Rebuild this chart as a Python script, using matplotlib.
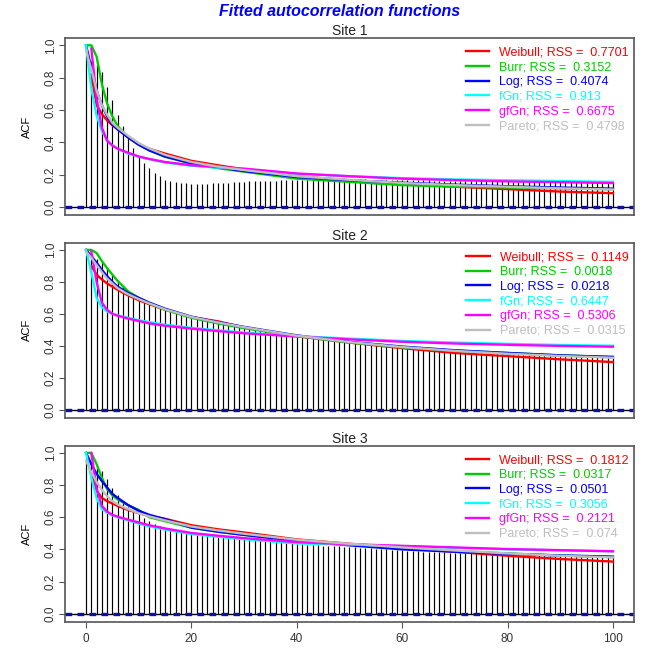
import numpy as np
import matplotlib
matplotlib.use("Agg")
import matplotlib.pyplot as plt

plt.rcParams["font.family"] = ["Liberation Sans", "DejaVu Sans"]

# sample ACF at lags 0..100, one list per site
lags = np.arange(101)

site1_acf = [0.94, 0.90, 0.88, 0.835, 0.745, 0.66, 0.57, 0.50, 0.425, 0.365, 0.315,
             0.272, 0.24, 0.213, 0.19, 0.168, 0.16, 0.155, 0.15, 0.146, 0.145,
             0.143, 0.142, 0.144, 0.146, 0.147, 0.149, 0.151, 0.153, 0.155, 0.157,
             0.158, 0.16, 0.161, 0.162, 0.163, 0.163, 0.164, 0.165, 0.165, 0.166,
             0.166, 0.167, 0.167, 0.168, 0.168, 0.168, 0.169, 0.169, 0.169, 0.17,
             0.17, 0.17, 0.17, 0.169, 0.169, 0.168, 0.168, 0.167, 0.167, 0.166,
             0.166, 0.165, 0.165, 0.164, 0.164, 0.163, 0.163, 0.162, 0.162, 0.161,
             0.161, 0.16, 0.16, 0.16, 0.159, 0.159, 0.159, 0.158, 0.158, 0.158,
             0.157, 0.157, 0.157, 0.156, 0.156, 0.156, 0.156, 0.155, 0.155, 0.155,
             0.155, 0.155, 0.154, 0.154, 0.154, 0.154, 0.154, 0.153, 0.153, 0.153]

site2_acf = [0.97, 0.96, 0.945, 0.925, 0.89, 0.85, 0.81, 0.775, 0.745, 0.72, 0.70,
             0.68, 0.665, 0.65, 0.64, 0.63, 0.62, 0.61, 0.60, 0.59, 0.58,
             0.572, 0.564, 0.557, 0.55, 0.543, 0.537, 0.531, 0.525, 0.519, 0.514,
             0.509, 0.504, 0.499, 0.494, 0.489, 0.484, 0.479, 0.474, 0.47, 0.466,
             0.461, 0.457, 0.453, 0.449, 0.445, 0.441, 0.437, 0.433, 0.429, 0.425,
             0.421, 0.418, 0.414, 0.411, 0.407, 0.404, 0.401, 0.397, 0.394, 0.39,
             0.387, 0.385, 0.383, 0.381, 0.379, 0.377, 0.375, 0.373, 0.371, 0.368,
             0.366, 0.364, 0.362, 0.36, 0.359, 0.357, 0.355, 0.354, 0.352, 0.35,
             0.349, 0.348, 0.347, 0.346, 0.345, 0.343, 0.342, 0.341, 0.34, 0.338,
             0.337, 0.336, 0.335, 0.334, 0.333, 0.332, 0.331, 0.33, 0.329, 0.328]

site3_acf = [0.97, 0.93, 0.91, 0.89, 0.835, 0.78, 0.74, 0.70, 0.665, 0.64, 0.62,
             0.595, 0.575, 0.555, 0.545, 0.535, 0.527, 0.52, 0.513, 0.507, 0.50,
             0.496, 0.492, 0.488, 0.484, 0.48, 0.477, 0.474, 0.471, 0.468, 0.465,
             0.462, 0.459, 0.456, 0.453, 0.45, 0.447, 0.444, 0.441, 0.438, 0.435,
             0.432, 0.43, 0.428, 0.426, 0.424, 0.422, 0.42, 0.418, 0.416, 0.414,
             0.412, 0.41, 0.408, 0.406, 0.404, 0.402, 0.4, 0.398, 0.396, 0.394,
             0.392, 0.39, 0.388, 0.386, 0.384, 0.383, 0.382, 0.381, 0.38, 0.379,
             0.378, 0.377, 0.376, 0.375, 0.374, 0.373, 0.372, 0.371, 0.37, 0.369,
             0.368, 0.367, 0.366, 0.365, 0.364, 0.363, 0.362, 0.361, 0.36, 0.359,
             0.358, 0.357, 0.357, 0.356, 0.356, 0.355, 0.355, 0.354, 0.354, 0.353]

# fitted model ACFs, evaluated on a coarser lag grid
fit_lags = [0, 1, 2, 3, 4, 5, 6, 8, 10, 12, 15, 20, 25, 30, 40, 50, 60, 70, 80, 90, 100]
nan = np.nan

site1_fit = {
    "Weibull": [nan, 0.82, 0.63, 0.575, 0.535, 0.505, 0.48, 0.43, 0.385, 0.36, 0.33, 0.285, 0.258, 0.232, 0.19, 0.165, 0.145, 0.125, 0.11, 0.095, 0.085],
    "Burr":    [1.0, 1.0, 0.93, 0.76, 0.64, 0.56, 0.50, 0.43, 0.385, 0.35, 0.31, 0.268, 0.24, 0.218, 0.175, 0.155, 0.135, 0.125, 0.12, 0.115, 0.11],
    "Log":     [1.0, 0.86, 0.72, 0.63, 0.56, 0.51, 0.48, 0.43, 0.385, 0.35, 0.312, 0.27, 0.245, 0.222, 0.185, 0.165, 0.15, 0.138, 0.128, 0.12, 0.113],
    "fGn":     [1.0, 0.73, 0.565, 0.47, 0.41, 0.38, 0.36, 0.33, 0.31, 0.295, 0.275, 0.255, 0.243, 0.233, 0.205, 0.19, 0.178, 0.17, 0.165, 0.16, 0.155],
    "gfGn":    [nan, 0.98, 0.67, 0.49, 0.41, 0.38, 0.36, 0.335, 0.312, 0.297, 0.278, 0.258, 0.247, 0.237, 0.207, 0.19, 0.175, 0.166, 0.158, 0.153, 0.148],
    "Pareto":  [0.97, 0.85, 0.72, 0.63, 0.57, 0.52, 0.49, 0.44, 0.395, 0.362, 0.322, 0.278, 0.25, 0.228, 0.19, 0.168, 0.148, 0.135, 0.125, 0.115, 0.108],
}
site2_fit = {
    "Weibull": [nan, 0.90, 0.845, 0.815, 0.79, 0.77, 0.75, 0.715, 0.685, 0.66, 0.625, 0.58, 0.553, 0.515, 0.46, 0.42, 0.385, 0.355, 0.335, 0.315, 0.298],
    "Burr":    [1.0, 1.0, 0.98, 0.93, 0.885, 0.845, 0.805, 0.74, 0.70, 0.665, 0.625, 0.575, 0.54, 0.51, 0.46, 0.42, 0.39, 0.37, 0.355, 0.34, 0.33],
    "Log":     [1.0, 0.96, 0.92, 0.875, 0.835, 0.80, 0.77, 0.73, 0.70, 0.67, 0.632, 0.582, 0.548, 0.518, 0.465, 0.425, 0.395, 0.372, 0.355, 0.34, 0.33],
    "fGn":     [1.0, 0.86, 0.70, 0.64, 0.615, 0.60, 0.59, 0.575, 0.56, 0.548, 0.532, 0.512, 0.497, 0.482, 0.46, 0.445, 0.43, 0.42, 0.412, 0.405, 0.40],
    "gfGn":    [nan, 0.99, 0.80, 0.67, 0.625, 0.60, 0.588, 0.57, 0.555, 0.54, 0.525, 0.507, 0.492, 0.478, 0.458, 0.44, 0.425, 0.414, 0.406, 0.399, 0.394],
    "Pareto":  [0.99, 0.95, 0.905, 0.86, 0.82, 0.79, 0.76, 0.722, 0.692, 0.665, 0.628, 0.58, 0.546, 0.516, 0.463, 0.423, 0.392, 0.368, 0.35, 0.336, 0.325],
}
site3_fit = {
    "Weibull": [nan, 0.87, 0.765, 0.72, 0.70, 0.685, 0.67, 0.645, 0.625, 0.608, 0.59, 0.55, 0.525, 0.505, 0.462, 0.435, 0.41, 0.385, 0.36, 0.34, 0.324],
    "Burr":    [1.0, 1.0, 0.93, 0.845, 0.775, 0.735, 0.71, 0.675, 0.645, 0.60, 0.575, 0.535, 0.51, 0.49, 0.455, 0.43, 0.41, 0.39, 0.375, 0.362, 0.352],
    "Log":     [1.0, 0.93, 0.87, 0.825, 0.785, 0.745, 0.72, 0.675, 0.64, 0.615, 0.588, 0.535, 0.51, 0.49, 0.452, 0.425, 0.40, 0.385, 0.372, 0.362, 0.355],
    "fGn":     [1.0, 0.845, 0.72, 0.65, 0.628, 0.612, 0.60, 0.58, 0.56, 0.543, 0.523, 0.495, 0.478, 0.463, 0.437, 0.43, 0.42, 0.41, 0.40, 0.394, 0.388],
    "gfGn":    [nan, 1.0, 0.78, 0.67, 0.635, 0.615, 0.603, 0.585, 0.567, 0.55, 0.53, 0.502, 0.485, 0.47, 0.445, 0.432, 0.422, 0.412, 0.402, 0.395, 0.388],
    "Pareto":  [0.95, 0.88, 0.82, 0.77, 0.73, 0.70, 0.68, 0.65, 0.625, 0.605, 0.58, 0.542, 0.518, 0.497, 0.46, 0.435, 0.412, 0.393, 0.375, 0.36, 0.35],
}

site1_rss = ["0.7701", "0.3152", "0.4074", "0.913", "0.6675", "0.4798"]
site2_rss = ["0.1149", "0.0018", "0.0218", "0.6447", "0.5306", "0.0315"]
site3_rss = ["0.1812", "0.0317", "0.0501", "0.3056", "0.2121", "0.074"]

models = ["Weibull", "Burr", "Log", "fGn", "gfGn", "Pareto"]
colors = ["#FF0000", "#00CD00", "#0000FF", "#00FFFF", "#FF00FF", "#BEBEBE"]

sites = [("Site 1", site1_acf, site1_fit, site1_rss),
         ("Site 2", site2_acf, site2_fit, site2_rss),
         ("Site 3", site3_acf, site3_fit, site3_rss)]

fig = plt.figure(figsize=(6.46, 6.51), dpi=100)
left, right = 0.1006, 0.9814
boxes = [(0.6697, 0.9416), (0.3584, 0.6272), (0.045, 0.3154)]

for i, (name, acf, fit, rss) in enumerate(sites):
    b, t = boxes[i]
    ax = fig.add_axes([left, b, right - left, t - b])

    ax.vlines(lags, 0, acf, color="black", lw=0.85)
    ax.axhline(0, color="black", lw=1)
    ax.axhline(0, color="#1010A0", lw=2.4, ls=(0, (2, 1.6)))

    for m, c, r in zip(models, colors, rss):
        ax.plot(fit_lags, fit[m], color=c, lw=1.7,
                label=m + "; RSS =  " + r)

    leg = ax.legend(loc="upper right", bbox_to_anchor=(1.0, 0.98), frameon=False,
                    fontsize=9, handlelength=1.9, handletextpad=0.8,
                    labelspacing=0.22, borderaxespad=0.2, borderpad=0.2)
    for txt, c in zip(leg.get_texts(), colors):
        txt.set_color(c)

    ax.set_xlim(-4, 104)
    ax.set_ylim(-0.05, 1.045)
    ax.set_yticks([0.0, 0.2, 0.4, 0.6, 0.8, 1.0])
    ax.set_yticklabels(["0.0", "0.2", "0.4", "0.6", "0.8", "1.0"],
                       rotation=90, va="center", fontsize=8.5, color="#333333")
    ax.tick_params(axis="y", length=4, color="#555555", pad=2)
    if i == 2:
        ax.set_xticks([0, 20, 40, 60, 80, 100])
        ax.tick_params(axis="x", length=4, color="#555555", labelsize=8.5,
                       labelcolor="#333333", pad=4)
    else:
        ax.set_xticks([])
    for s in ax.spines.values():
        s.set_color("#555555")
        s.set_linewidth(1.2)
    ax.set_ylabel("ACF", fontsize=8, labelpad=9)
    ax.set_title(name, fontsize=10, pad=2, color="#222222")

fig.text(0.525, 0.982, "Fitted autocorrelation functions", color="#0000FF",
         fontsize=11.5, fontweight="bold", fontstyle="italic",
         ha="center", va="center")

fig.savefig("out.png", dpi=100)
